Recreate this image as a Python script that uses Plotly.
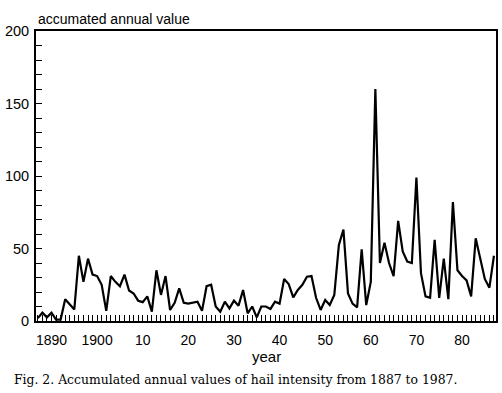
import plotly.graph_objects as go

years = list(range(1887, 1988))
values = [
    2, 5.7, 2.5, 5.7, 1, 1, 15, 11.5, 8, 45,          # 1887-1896
    27, 43, 32, 31, 25, 7, 31, 27, 24, 32,             # 1897-1906
    21, 19, 14, 13, 17, 6.5, 35, 18, 31, 7.6,          # 1907-1916
    12.6, 22.5, 12.6, 12, 12.6, 13.3, 7, 24, 25, 10,   # 1917-1926
    6.4, 13.3, 8.7, 14, 10.6, 21.4, 5.3, 10, 2.5, 10,  # 1927-1936
    10, 8.3, 13.3, 12, 29, 25.5, 16.3, 21.4, 25, 30.5, # 1937-1946
    31, 16, 7.6, 14.5, 11, 18, 52.4, 63, 19, 12,       # 1947-1956
    9.4, 49.4, 11, 27, 160, 40, 54, 40, 31, 69,        # 1957-1966
    48, 41, 40, 99, 33, 17, 16, 56, 16, 43,            # 1967-1976
    15, 82, 35, 31, 28, 17, 57, 43, 29, 23,            # 1977-1986
    45,                                                # 1987
]

x_tickvals = [1890, 1900, 1910, 1920, 1930, 1940, 1950, 1960, 1970, 1980]
x_ticktext = ["1890", "1900", "10", "20", "30", "40", "50", "60", "70", "80"]
y_tickvals = [0, 50, 100, 150, 200]
y_ticktext = ["0", "50", "100", "150", "200"]

y_label = "accumated annual value"
x_label = "year"
caption = "Fig. 2. Accumulated annual values of hail intensity from 1887 to 1987."

fig = go.Figure()
fig.add_trace(go.Scatter(
    x=years, y=values, mode="lines",
    line=dict(color="black", width=2.2),
    hoverinfo="skip", showlegend=False,
))

sans = "Liberation Sans, Arial, sans-serif"
fig.update_layout(
    width=502, height=393,
    margin=dict(l=36, r=4, t=31, b=72),
    paper_bgcolor="white", plot_bgcolor="white",
    font=dict(family=sans, size=14, color="black"),
    xaxis=dict(
        range=[1886.6, 1987.45],
        tickmode="array", tickvals=x_tickvals, ticktext=x_ticktext,
        ticks="inside", ticklen=6, tickwidth=1, tickcolor="black",
        minor=dict(tick0=1887, dtick=1, ticks="inside", ticklen=6,
                   tickwidth=1, tickcolor="black", showgrid=False),
        showline=True, linewidth=2, linecolor="black", mirror=True,
        showgrid=False, zeroline=False,
        tickfont=dict(size=14), ticklabelstandoff=5,
    ),
    yaxis=dict(
        range=[0, 200],
        tickmode="array", tickvals=y_tickvals, ticktext=y_ticktext,
        ticks="inside", ticklen=6, tickwidth=1, tickcolor="black",
        minor=dict(dtick=10, tick0=0, ticks="inside", ticklen=6,
                   tickwidth=1, tickcolor="black", showgrid=False),
        showline=True, linewidth=2, linecolor="black", mirror=True,
        showgrid=False, zeroline=False,
        tickfont=dict(size=14.5), ticklabelstandoff=2,
    ),
    annotations=[
        dict(text=y_label, xref="paper", yref="paper", x=0, y=1,
             xanchor="left", yanchor="bottom", yshift=2, showarrow=False,
             font=dict(family=sans, size=14)),
        dict(text=x_label, xref="paper", yref="paper", x=0.5, y=0,
             xanchor="center", yanchor="middle", yshift=-35, showarrow=False,
             font=dict(family=sans, size=15)),
        dict(text=caption, xref="paper", yref="paper", x=-0.053, y=0,
             xanchor="left", yanchor="middle", yshift=-58, showarrow=False,
             font=dict(family="DejaVu Serif, serif", size=12.4)),
    ],
)

fig.write_html("out.html", config={"displayModeBar": False},
               post_script="document.body.style.margin='0';")
